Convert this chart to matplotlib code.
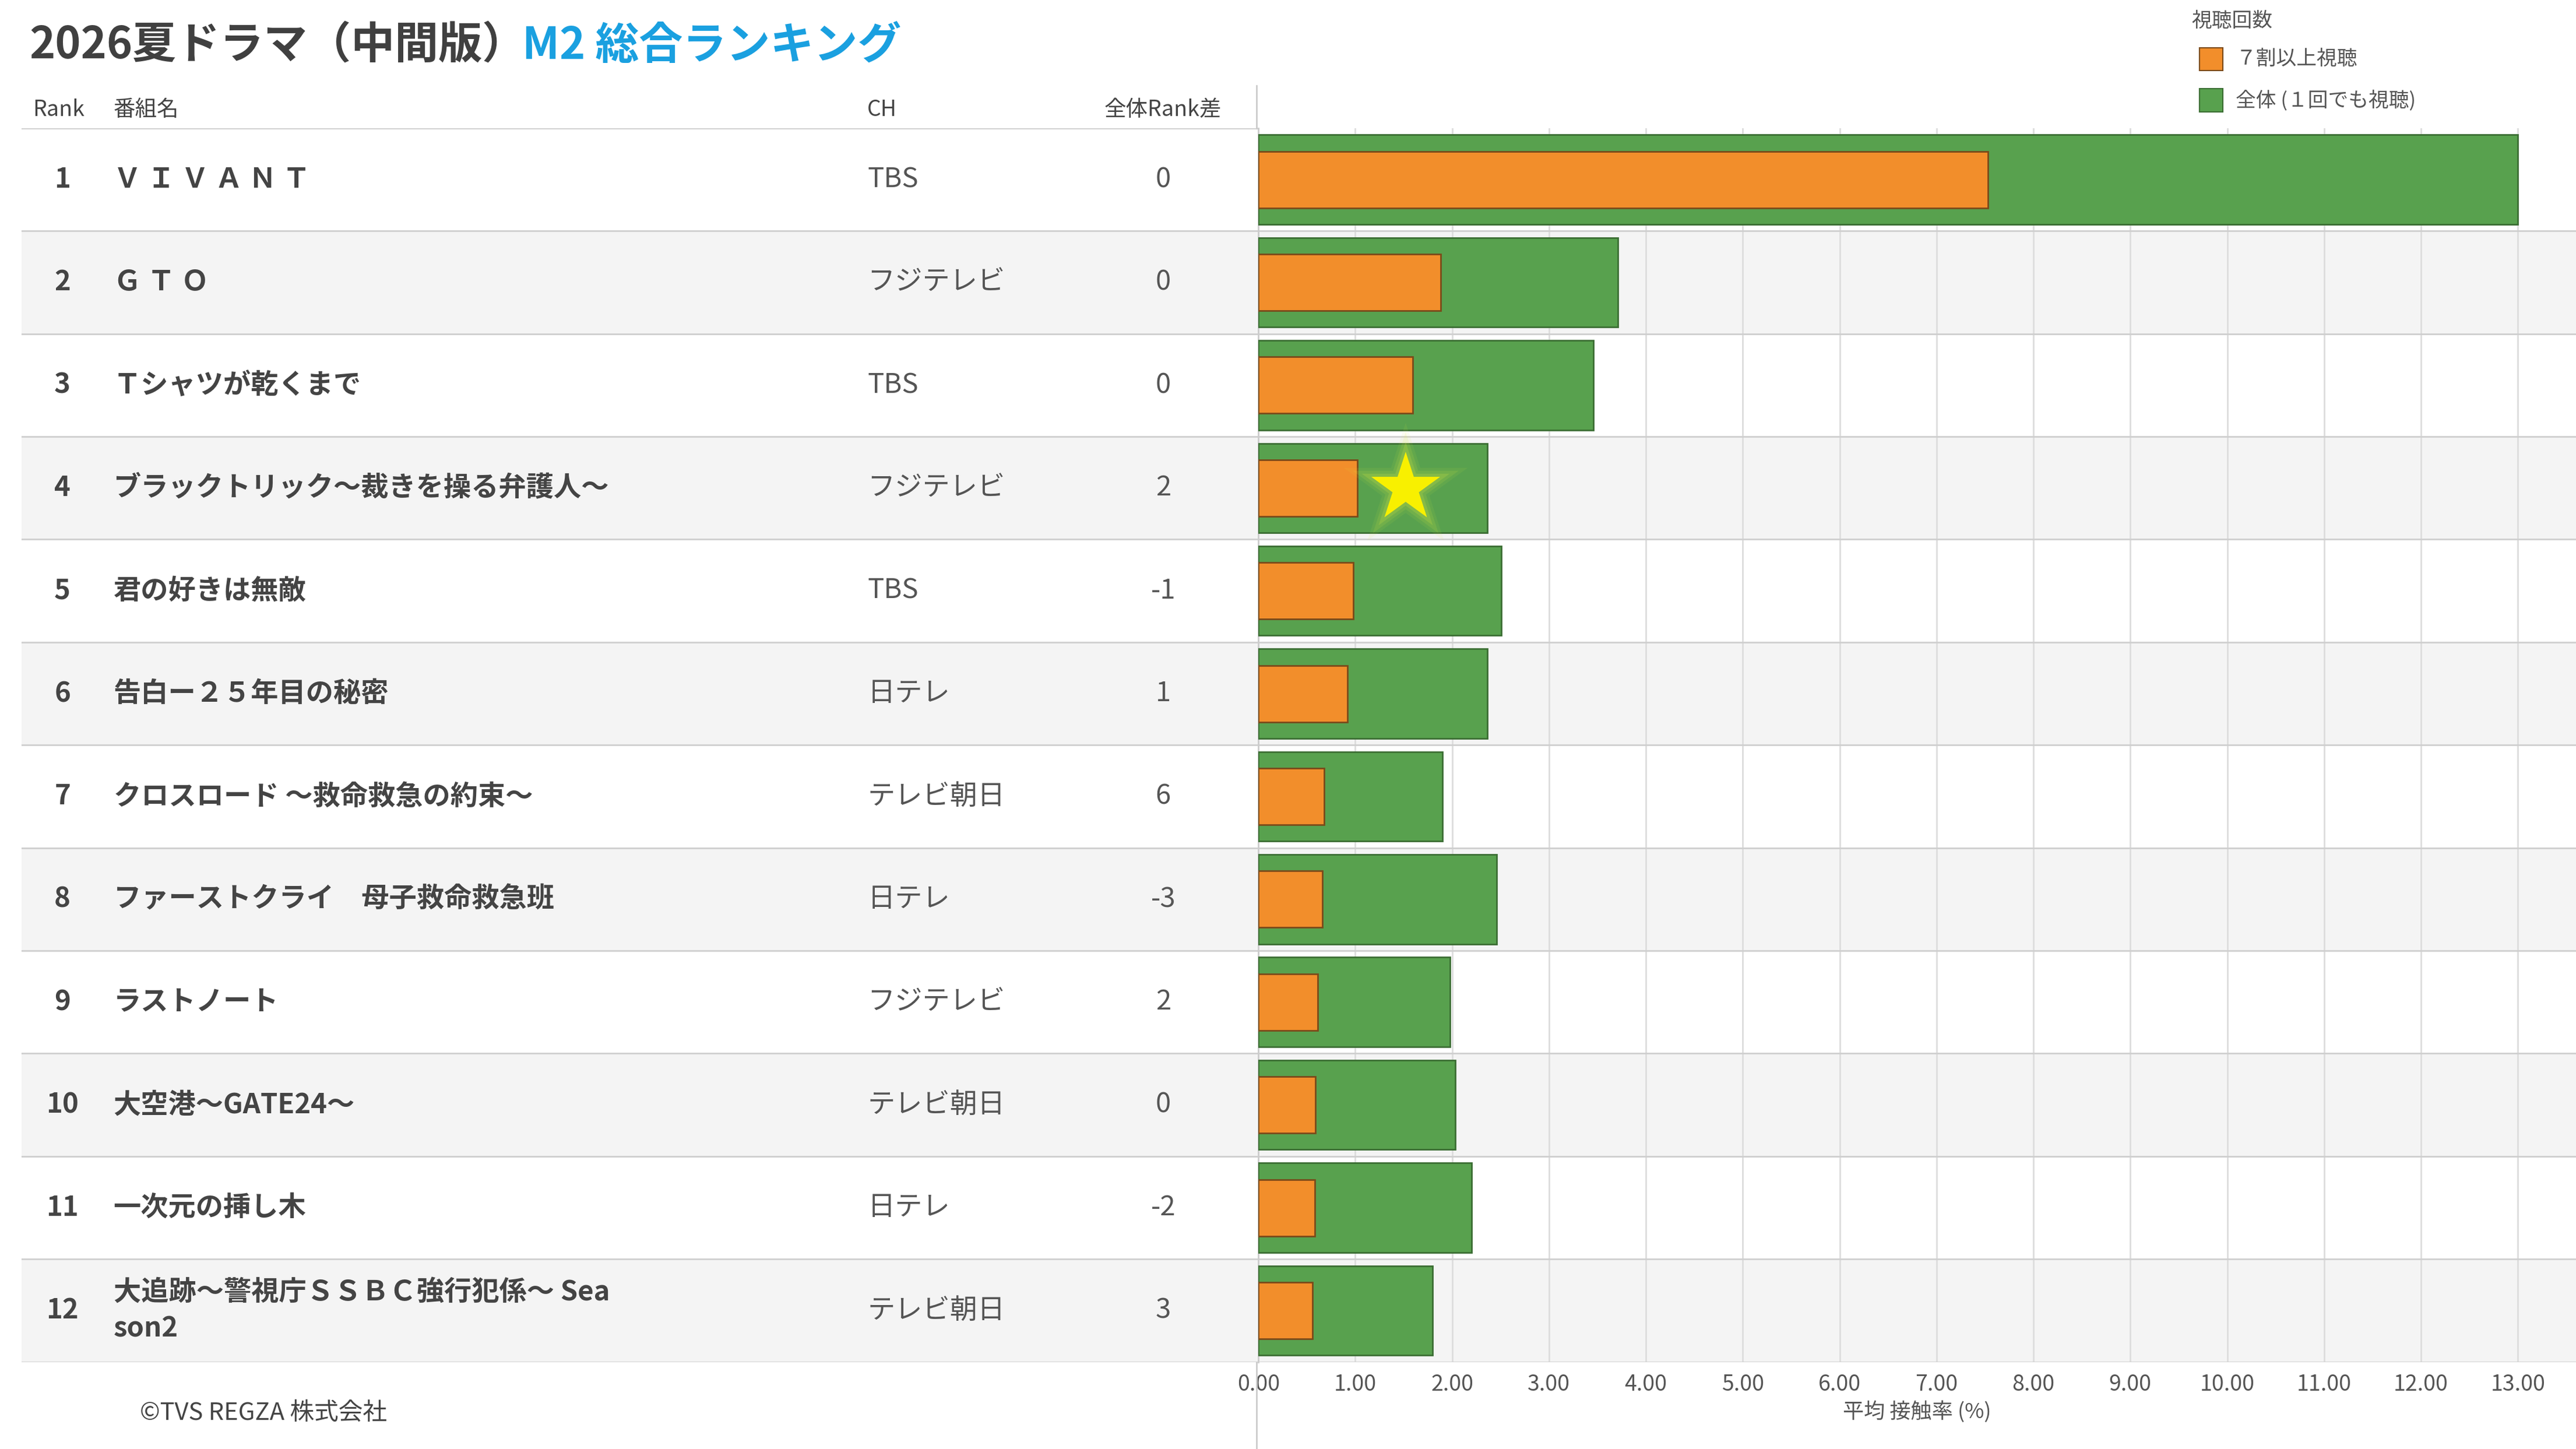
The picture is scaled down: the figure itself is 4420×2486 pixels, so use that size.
import matplotlib
matplotlib.use("Agg")
import matplotlib.pyplot as plt
from matplotlib.patches import Rectangle

plt.rcParams['font.family'] = ['Noto Sans CJK JP', 'DejaVu Sans']

ranks = list(range(1, 13))
titles = ["Ｖ Ｉ Ｖ Ａ Ｎ Ｔ", "Ｇ Ｔ Ｏ", "Ｔシャツが乾くまで", "ブラックトリック～裁きを操る弁護人～",
          "君の好きは無敵", "告白ー２５年目の秘密", "クロスロード ～救命救急の約束～",
          "ファーストクライ　母子救命救急班", "ラストノート", "大空港～GATE24～",
          "一次元の挿し木", "大追跡～警視庁ＳＳＢＣ強行犯係～ Sea\nson2"]
channels = ["TBS", "フジテレビ", "TBS", "フジテレビ", "TBS", "日テレ", "テレビ朝日", "日テレ",
            "フジテレビ", "テレビ朝日", "日テレ", "テレビ朝日"]
rank_diff = ["0", "0", "0", "2", "-1", "1", "6", "-3", "2", "0", "-2", "3"]
total = [13.0, 3.71, 3.46, 2.36, 2.51, 2.36, 1.90, 2.46, 1.98, 2.03, 2.20, 1.80]
heavy = [7.53, 1.88, 1.59, 1.02, 0.98, 0.92, 0.68, 0.66, 0.61, 0.59, 0.58, 0.56]
ticks = [i for i in range(14)]

W, H = 1568, 882
fig = plt.figure(figsize=(44.2, 24.86), dpi=100)
def fx(x): return x / W
def fy(y): return 1 - y / H

top, bot = 78, 829
GREEN, ORANGE = "#58a14e", "#f28e2b"

tax = fig.add_axes([fx(13), fy(bot), fx(766) - fx(13), fy(top) - fy(bot)])
tax.set_xlim(13, 766); tax.set_ylim(12, 0); tax.axis('off')
bax = fig.add_axes([fx(766), fy(bot), 1 - fx(766), fy(top) - fy(bot)])
bax.set_xlim(0, 13.6); bax.set_ylim(11.5, -0.5)

for i in range(12):
    if i % 2 == 1:
        tax.add_patch(Rectangle((13, i), 753, 1, color="#f4f4f4", zorder=0))
        bax.axhspan(i - 0.5, i + 0.5, color="#f4f4f4", zorder=0)
    tax.axhline(i + 1, color="#cfcfcf", lw=2)
    bax.axhline(i + 0.5, color="#cfcfcf", lw=2, zorder=1)
    yc = i + 0.5
    tax.text(38, yc, str(ranks[i]), ha='center', va='center', fontsize=34, fontweight='bold', color="#444444")
    tax.text(69, yc, titles[i], ha='left', va='center', fontsize=34, fontweight='bold', color="#444444", linespacing=1.35)
    tax.text(528, yc, channels[i], ha='left', va='center', fontsize=34, color="#555555")
    tax.text(708, yc, rank_diff[i], ha='center', va='center', fontsize=34, color="#555555")
tax.axhline(0, color="#cfcfcf", lw=2)

bax.barh(range(12), total, height=0.87, color=GREEN, edgecolor="#3b6e33", lw=2, zorder=3)
bax.barh(range(12), heavy, height=0.55, color=ORANGE, edgecolor="#7a4a1a", lw=2, zorder=4)
for s, a in [(26000, 0.08), (19000, 0.12), (13000, 0.18)]:
    bax.scatter([1.52], [3], s=s, marker='*', color="#e0f040", alpha=a, zorder=5, edgecolors='none')
bax.scatter([1.52], [3], s=8000, marker='*', color="#f8f000", zorder=6, edgecolors='none')

bax.set_xticks(ticks)
bax.set_xticklabels([f"{t:.2f}" for t in ticks], fontsize=27, color="#555555")
bax.grid(axis='x', color="#dddddd", lw=2, zorder=0)
bax.set_axisbelow(True)
bax.set_yticks([])
for s in ['top', 'right', 'bottom']:
    bax.spines[s].set_visible(False)
bax.spines['left'].set_color("#cccccc"); bax.spines['left'].set_linewidth(2)
bax.tick_params(axis='x', length=0, pad=14)
bax.set_xlabel("平均 接触率 (%)", fontsize=26, color="#555555", labelpad=6)
fig.add_artist(plt.Line2D([fx(765), fx(765)], [fy(52), fy(top)], color="#cccccc", lw=2))
fig.add_artist(plt.Line2D([fx(765), fx(765)], [fy(bot), 0], color="#cccccc", lw=2))

fig.text(fx(18), fy(28), "2026夏ドラマ（中間版）", fontsize=54, fontweight='bold', color="#404040", va='center')
fig.text(fx(318), fy(28), "M2 総合ランキング", fontsize=54, fontweight='bold', color="#1aa0e0", va='center')
for x, s, ha in [(20, "Rank", 'left'), (69, "番組名", 'left'), (528, "CH", 'left'), (708, "全体Rank差", 'center')]:
    fig.text(fx(x), fy(67), s, fontsize=27, color="#444444", ha=ha, va='center')
fig.text(fx(85), fy(860), "©TVS REGZA 株式会社", fontsize=30, color="#444444", va='center')

fig.text(fx(1334), fy(13), "視聴回数", fontsize=25, color="#555555", va='center')
for y, c, ec, s in [(36, ORANGE, "#7a4a1a", "７割以上視聴"), (61, GREEN, "#3b6e33", "全体 (１回でも視聴)")]:
    fig.patches.append(Rectangle((fx(1339), fy(y + 7)), fx(14), fy(0) - fy(14), facecolor=c, edgecolor=ec,
                                 lw=1.5, transform=fig.transFigure, figure=fig))
    fig.text(fx(1361), fy(y), s, fontsize=25, color="#555555", va='center')

fig.savefig("out.png", dpi=100, facecolor='white')
